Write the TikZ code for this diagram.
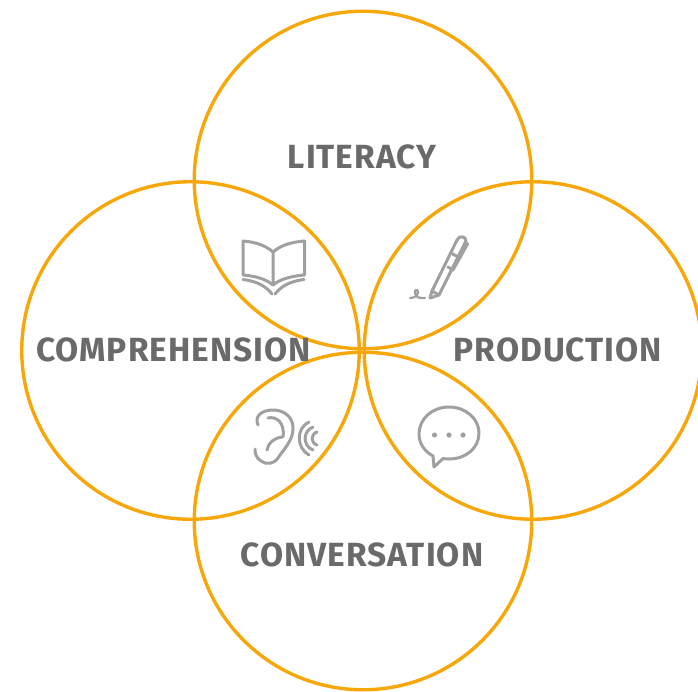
\documentclass[tikz,border=0pt]{standalone}
\usepackage{fontspec}
\setmainfont{Fira Sans}
\newfontfamily\labfont[LetterSpace=3.0]{Fira Sans}[BoldFont=Fira Sans Bold]
\tikzset{
 ring/.style={draw=ringc,line width=3.4pt,fill=none,circle,outer sep=0pt,inner sep=0pt,minimum size=337.5pt},
 lab/.style={text=labc,font=\labfont\bfseries\fontsize{33.5}{33.5}\selectfont,inner sep=0pt,anchor=center},
 ico/.style={draw=icoc,line width=3pt,line cap=round,line join=round,fill=none}
}
\definecolor{ringc}{HTML}{F7A70A}
\definecolor{labc}{HTML}{6A6A6A}
\definecolor{icoc}{HTML}{A0A0A0}
\begin{document}
\begin{tikzpicture}[x=1pt,y=-1pt]
\useasboundingbox (0,0) rectangle (698,691);
\node[ring] (top) at (363,180) {};
\node[ring] (left) at (190.5,350.5) {};
\node[ring] (right) at (533,350.5) {};
\node[ring] (bottom) at (363,521) {};
\node[lab] (t1) at (362,157) {LITERACY};
\node[lab] (t2) at (173.5,350) {COMPREHENSION};
\node[lab] (t3) at (558,350) {PRODUCTION};
\node[lab] (t4) at (362,555) {CONVERSATION};
% book
\draw[ico] (273,252) .. controls (265,245) and (255,242) .. (243,241) -- (243,275) .. controls (255,276) and (266,279) .. (273,285) .. controls (280,279) and (292,276) .. (304.5,275) -- (304.5,241) .. controls (292,242) and (281,245) .. (273,252) -- (273,285);
\draw[ico] (243,279.5) .. controls (255,281) and (265,285) .. (272,294);
\draw[ico] (304,279.5) .. controls (292,281) and (282,285) .. (275,294);
% pen
\draw[ico] (430,298) -- (432,291) -- (457,240) .. controls (459,235) and (466,236) .. (466,241) -- (439,295) -- cycle;
\draw[ico] (432,291) -- (439,295);
\draw[ico] (451,253) -- (460,258);
\draw[ico] (465,243) -- (467.5,244) -- (453,270) -- (448,267);
\draw[ico,line width=2.2pt] (410,298) .. controls (414,298) and (418,296) .. (418,292) .. controls (418,289) and (414,289) .. (415,293) .. controls (416,298) and (419,298) .. (425,298);
% ear
\draw[ico] (258,425) .. controls (254,416) and (262,410) .. (273,410) .. controls (285,410) and (294,418) .. (293,430) .. controls (292,442) and (283,450) .. (278,458) .. controls (274,464) and (266,465) .. (261,461) .. controls (256,458) and (255,453) .. (255,449);
\draw[ico] (268,418) .. controls (276,416) and (285,422) .. (283,437);
\draw[ico] (267,450) .. controls (268,443) and (274,438) .. (282,437);
% waves
\draw[ico] (309,422) .. controls (296,428) and (296,448) .. (309,455);
\draw[ico] (313,427) .. controls (302.5,431) and (302.5,446) .. (313,450);
\draw[ico] (317,432) .. controls (310.5,434) and (310.5,443) .. (317,445);
% bubble
\draw[ico] (449,407) .. controls (432,407) and (419,419) .. (419,434) .. controls (419,443) and (424,451) .. (433,456) -- (434,467) -- (443,458.5) .. controls (445,459) and (447,459) .. (449,459) .. controls (466,459) and (479,448) .. (479,433) .. controls (479,419) and (466,407) .. (449,407) -- cycle;
\fill[icoc] (434.5,435) circle (2.6pt) (449,435) circle (2.6pt) (463,435) circle (2.6pt);
\end{tikzpicture}
\end{document}
